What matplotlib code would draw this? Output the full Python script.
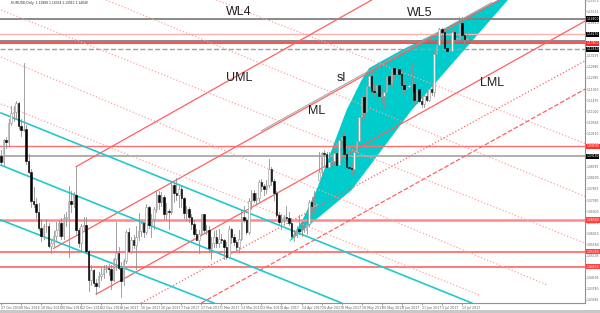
import matplotlib
matplotlib.use("Agg")
import matplotlib.pyplot as plt
from matplotlib.patches import Rectangle, Polygon
from matplotlib.ticker import MultipleLocator, FuncFormatter

# EURUSD daily, 27 Oct 2016 .. 14 Jul 2017 (bar index = position on chart)
opens = [1.0920, 1.0895, 1.0985, 1.0975, 1.1055, 1.1095, 1.1100, 1.1135, 1.1040, 1.1025,
         1.1030, 1.0900, 1.0855, 1.0735, 1.0720, 1.0690, 1.0625, 1.0590, 1.0630, 1.0630,
         1.0550, 1.0560, 1.0590, 1.0615, 1.0645, 1.0590, 1.0665, 1.0665, 1.0735, 1.0720,
         1.0760, 1.0615, 1.0560, 1.0630, 1.0635, 1.0530, 1.0410, 1.0450, 1.0400, 1.0385,
         1.0425, 1.0435, 1.0455, 1.0460, 1.0455, 1.0410, 1.0495, 1.0520, 1.0460, 1.0405,
         1.0490, 1.0605, 1.0530, 1.0575, 1.0555, 1.0585, 1.0610, 1.0645, 1.0605, 1.0710,
         1.0635, 1.0660, 1.0700, 1.0760, 1.0730, 1.0750, 1.0680, 1.0695, 1.0690, 1.0800,
         1.0765, 1.0760, 1.0785, 1.0745, 1.0685, 1.0700, 1.0670, 1.0640, 1.0600, 1.0575,
         1.0600, 1.0680, 1.0615, 1.0615, 1.0540, 1.0560, 1.0585, 1.0560, 1.0580, 1.0575,
         1.0545, 1.0505, 1.0620, 1.0585, 1.0565, 1.0545, 1.0580, 1.0670, 1.0655, 1.0605,
         1.0735, 1.0765, 1.0740, 1.0745, 1.0810, 1.0795, 1.0785, 1.0800, 1.0865, 1.0815,
         1.0765, 1.0675, 1.0650, 1.0665, 1.0670, 1.0665, 1.0645, 1.0590, 1.0595, 1.0620,
         1.0610, 1.0615, 1.0615, 1.0640, 1.0730, 1.0715, 1.0715, 1.0820, 1.0855, 1.0930,
         1.0925, 1.0875, 1.0895, 1.0900, 1.0930, 1.0880, 1.0985, 1.1000, 1.0925, 1.0875,
         1.0870, 1.0865, 1.0935, 1.0980, 1.1080, 1.1160, 1.1100, 1.1205, 1.1245, 1.1185,
         1.1180, 1.1210, 1.1165, 1.1165, 1.1180, 1.1245, 1.1215, 1.1280, 1.1255, 1.1275,
         1.1255, 1.1210, 1.1195, 1.1200, 1.1210, 1.1215, 1.1150, 1.1195, 1.1145, 1.1130,
         1.1165, 1.1150, 1.1195, 1.1180, 1.1335, 1.1375, 1.1440, 1.1425, 1.1360, 1.1350,
         1.1350, 1.1425, 1.1400, 1.1400, 1.1465, 1.1415, 1.1399]
highs = [1.0945, 1.0990, 1.0995, 1.1070, 1.1125, 1.1125, 1.1145, 1.1140, 1.1070, 1.1300,
         1.1045, 1.0925, 1.0865, 1.0790, 1.0745, 1.0725, 1.0660, 1.0640, 1.0660, 1.0645,
         1.0575, 1.0610, 1.0650, 1.0655, 1.0665, 1.0680, 1.0690, 1.0795, 1.0775, 1.0770,
         1.0875, 1.0625, 1.0640, 1.0670, 1.0670, 1.0535, 1.0470, 1.0455, 1.0415, 1.0445,
         1.0460, 1.0470, 1.0470, 1.0475, 1.0470, 1.0500, 1.0650, 1.0545, 1.0485, 1.0495,
         1.0615, 1.0625, 1.0585, 1.0595, 1.0630, 1.0685, 1.0650, 1.0650, 1.0720, 1.0715,
         1.0680, 1.0710, 1.0775, 1.0775, 1.0770, 1.0760, 1.0725, 1.0700, 1.0810, 1.0810,
         1.0830, 1.0795, 1.0795, 1.0750, 1.0715, 1.0710, 1.0680, 1.0655, 1.0620, 1.0615,
         1.0680, 1.0680, 1.0635, 1.0630, 1.0585, 1.0610, 1.0615, 1.0620, 1.0600, 1.0580,
         1.0565, 1.0630, 1.0625, 1.0600, 1.0575, 1.0615, 1.0700, 1.0715, 1.0665, 1.0745,
         1.0780, 1.0780, 1.0765, 1.0820, 1.0825, 1.0805, 1.0820, 1.0905, 1.0875, 1.0825,
         1.0775, 1.0690, 1.0680, 1.0675, 1.0715, 1.0690, 1.0665, 1.0615, 1.0630, 1.0675,
         1.0650, 1.0630, 1.0660, 1.0740, 1.0750, 1.0775, 1.0735, 1.0935, 1.0935, 1.0945,
         1.0935, 1.0935, 1.0910, 1.0950, 1.0935, 1.0990, 1.1000, 1.1020, 1.0935, 1.0900,
         1.0895, 1.0940, 1.0985, 1.1090, 1.1165, 1.1170, 1.1210, 1.1265, 1.1265, 1.1215,
         1.1245, 1.1230, 1.1185, 1.1185, 1.1250, 1.1255, 1.1285, 1.1285, 1.1285, 1.1285,
         1.1270, 1.1225, 1.1235, 1.1225, 1.1295, 1.1225, 1.1200, 1.1200, 1.1165, 1.1170,
         1.1185, 1.1205, 1.1215, 1.1345, 1.1385, 1.1445, 1.1445, 1.1430, 1.1375, 1.1385,
         1.1435, 1.1440, 1.1425, 1.1490, 1.1490, 1.1430, 1.1432]
lows = [1.0880, 1.0880, 1.0950, 1.0960, 1.1045, 1.1060, 1.1075, 1.1030, 1.1000, 1.1020,
        1.0885, 1.0850, 1.0710, 1.0710, 1.0665, 1.0615, 1.0570, 1.0580, 1.0605, 1.0545,
        1.0520, 1.0550, 1.0575, 1.0590, 1.0580, 1.0580, 1.0630, 1.0505, 1.0690, 1.0710,
        1.0600, 1.0545, 1.0530, 1.0615, 1.0520, 1.0365, 1.0390, 1.0385, 1.0352, 1.0380,
        1.0410, 1.0420, 1.0445, 1.0430, 1.0375, 1.0405, 1.0450, 1.0455, 1.0340, 1.0390,
        1.0480, 1.0525, 1.0520, 1.0540, 1.0455, 1.0575, 1.0590, 1.0585, 1.0600, 1.0625,
        1.0585, 1.0620, 1.0690, 1.0700, 1.0715, 1.0660, 1.0660, 1.0620, 1.0680, 1.0730,
        1.0740, 1.0710, 1.0710, 1.0665, 1.0655, 1.0650, 1.0620, 1.0590, 1.0575, 1.0520,
        1.0595, 1.0605, 1.0600, 1.0525, 1.0495, 1.0545, 1.0545, 1.0545, 1.0560, 1.0495,
        1.0495, 1.0500, 1.0560, 1.0555, 1.0535, 1.0525, 1.0575, 1.0650, 1.0600, 1.0600,
        1.0700, 1.0730, 1.0720, 1.0735, 1.0775, 1.0760, 1.0765, 1.0790, 1.0800, 1.0740,
        1.0670, 1.0640, 1.0620, 1.0640, 1.0655, 1.0635, 1.0580, 1.0570, 1.0585, 1.0600,
        1.0590, 1.0605, 1.0600, 1.0630, 1.0690, 1.0685, 1.0680, 1.0820, 1.0845, 1.0880,
        1.0850, 1.0865, 1.0880, 1.0880, 1.0865, 1.0875, 1.0955, 1.0915, 1.0870, 1.0865,
        1.0840, 1.0855, 1.0930, 1.0975, 1.1075, 1.1075, 1.1090, 1.1185, 1.1180, 1.1165,
        1.1170, 1.1160, 1.1140, 1.1110, 1.1165, 1.1200, 1.1205, 1.1235, 1.1245, 1.1235,
        1.1195, 1.1170, 1.1180, 1.1190, 1.1185, 1.1130, 1.1135, 1.1140, 1.1120, 1.1120,
        1.1145, 1.1145, 1.1170, 1.1165, 1.1305, 1.1370, 1.1390, 1.1360, 1.1335, 1.1320,
        1.1350, 1.1385, 1.1385, 1.1395, 1.1415, 1.1375, 1.1392]
closes = [1.0895, 1.0985, 1.0975, 1.1055, 1.1095, 1.1100, 1.1135, 1.1040, 1.1025, 1.1030,
          1.0900, 1.0855, 1.0735, 1.0720, 1.0690, 1.0625, 1.0590, 1.0630, 1.0630, 1.0550,
          1.0560, 1.0590, 1.0615, 1.0645, 1.0590, 1.0665, 1.0665, 1.0735, 1.0720, 1.0760,
          1.0615, 1.0560, 1.0630, 1.0635, 1.0530, 1.0410, 1.0450, 1.0400, 1.0385, 1.0425,
          1.0435, 1.0455, 1.0460, 1.0455, 1.0410, 1.0495, 1.0520, 1.0460, 1.0405, 1.0490,
          1.0605, 1.0530, 1.0575, 1.0555, 1.0585, 1.0610, 1.0645, 1.0605, 1.0710, 1.0635,
          1.0660, 1.0700, 1.0760, 1.0730, 1.0750, 1.0680, 1.0695, 1.0690, 1.0800, 1.0765,
          1.0760, 1.0785, 1.0745, 1.0685, 1.0700, 1.0670, 1.0640, 1.0600, 1.0575, 1.0600,
          1.0680, 1.0615, 1.0615, 1.0540, 1.0560, 1.0585, 1.0560, 1.0580, 1.0575, 1.0545,
          1.0505, 1.0620, 1.0585, 1.0565, 1.0545, 1.0580, 1.0670, 1.0655, 1.0605, 1.0735,
          1.0765, 1.0740, 1.0745, 1.0810, 1.0795, 1.0785, 1.0800, 1.0865, 1.0815, 1.0765,
          1.0675, 1.0650, 1.0665, 1.0670, 1.0665, 1.0645, 1.0590, 1.0595, 1.0620, 1.0610,
          1.0615, 1.0615, 1.0640, 1.0730, 1.0715, 1.0715, 1.0725, 1.0855, 1.0930, 1.0925,
          1.0875, 1.0895, 1.0900, 1.0930, 1.0880, 1.0985, 1.0995, 1.0925, 1.0875, 1.0870,
          1.0865, 1.0935, 1.0980, 1.1080, 1.1160, 1.1100, 1.1205, 1.1245, 1.1185, 1.1180,
          1.1210, 1.1165, 1.1165, 1.1180, 1.1245, 1.1215, 1.1280, 1.1255, 1.1275, 1.1255,
          1.1210, 1.1195, 1.1200, 1.1210, 1.1215, 1.1150, 1.1195, 1.1145, 1.1130, 1.1165,
          1.1150, 1.1195, 1.1180, 1.1335, 1.1375, 1.1440, 1.1425, 1.1360, 1.1350, 1.1350,
          1.1425, 1.1400, 1.1400, 1.1465, 1.1415, 1.1399, 1.1404]

date_labels = ["27 Oct 2016", "8 Nov 2016", "18 Nov 2016", "30 Nov 2016", "12 Dec 2016",
               "22 Dec 2016", "4 Jan 2017", "16 Jan 2017", "26 Jan 2017", "7 Feb 2017",
               "17 Feb 2017", "1 Mar 2017", "13 Mar 2017", "23 Mar 2017", "4 Apr 2017",
               "14 Apr 2017", "26 Apr 2017", "8 May 2017", "18 May 2017", "30 May 2017",
               "9 Jun 2017", "21 Jun 2017", "3 Jul 2017", "13 Jul 2017"]
date_label_bars = [0, 8, 16, 24, 32, 40, 48, 56, 64, 72, 80, 88, 96, 104, 112, 120,
                   128, 136, 144, 152, 160, 168, 176, 184]

# horizontal levels
h_prices = [1.1480, 1.1417, 1.1389, 1.1380, 1.1356, 1.0959, 1.0918, 1.0656, 1.0526, 1.0465]
h_colors = ["#808080", "#ffb0b0", "#808080", "#ff4040", "#a0a0a0",
            "#ff7070", "#a8a8a8", "#ff8888", "#ff7070", "#ff7070"]
h_styles = ["-", "-", "-", "-", "--", "-", "-", "-", "-", "-"]
h_widths = [1.3, 1.0, 1.3, 1.3, 1.0, 1.0, 1.3, 1.8, 1.3, 1.3]
box_colors = ["#000000", "#000000", None, "#ff2020", "#000000",
              "#ff3030", "#000000", "#ff4040", "#ff4040", "#ff4040"]

# pitchfork family (rising), anchor bar/price pairs
fork_start = [(30, 1.0875), (21, 1.0540), (38, 1.0352), (56, 1.0316), (80, 1.0316)]
fork_end = [(148, 1.1558), (199, 1.1558), (234, 1.1476), (234, 1.1313), (234, 1.1197)]
fork_styles = ["-", "-", "-", ":", "--"]

# grey sliding line running just above the median line
slide_start = (104, 1.1022)
slide_end = (196, 1.1548)

# falling channel lines
cyan_start = [(0, 1.1095), (0, 1.0881), (0, 1.0656)]
cyan_end = [(188, 1.0316), (136, 1.0316), (85, 1.0316)]
red_fall_start = [(86, 1.1558), (42, 1.1558), (0, 1.1517), (0, 1.1324), (0, 1.1132)]
red_fall_end = [(234, 1.0967), (234, 1.0750), (234, 1.0558), (218, 1.0390), (191, 1.0349)]

# cyan shaded shape
shade_bars = [115, 120, 126, 132, 138, 144, 147, 160, 176, 191, 206, 164, 140, 115]
shade_prices = [1.0566, 1.0648, 1.0779, 1.0943, 1.1107, 1.1230, 1.1279, 1.1353, 1.1435, 1.1517,
                1.1600, 1.1107, 1.0779, 1.0566]

fig = plt.figure(figsize=(6.0, 3.13), dpi=100)
fig.patch.set_facecolor("white")
ax = fig.add_axes([0.0, 10 / 313, 585 / 600, 303 / 313])
ax.set_xlim(-0.4, 233.2)
ax.set_ylim(1.0316, 1.1558)

ax.add_patch(Polygon(list(zip(shade_bars, shade_prices)), closed=True,
                     facecolor="#00cccc", edgecolor="none", zorder=1))

for p, c, s, w in zip(h_prices, h_colors, h_styles, h_widths):
    ax.axhline(p, color=c, ls=s, lw=w, zorder=2)

for (x0, y0), (x1, y1), s in zip(fork_start, fork_end, fork_styles):
    ax.plot([x0, x1], [y0, y1], color="#ff6060", ls=s, lw=0.9, zorder=2)
ax.plot([slide_start[0], slide_end[0]], [slide_start[1], slide_end[1]],
        color="#a0a0a0", lw=0.7, zorder=2)
for (x0, y0), (x1, y1) in zip(cyan_start, cyan_end):
    ax.plot([x0, x1], [y0, y1], color="#20c8d0", lw=1.2, zorder=2)
for (x0, y0), (x1, y1) in zip(red_fall_start, red_fall_end):
    ax.plot([x0, x1], [y0, y1], color="#ffa0a0", ls=":", lw=0.9, zorder=2)

# candles
for i, (o, h, l, c) in enumerate(zip(opens, highs, lows, closes)):
    ax.plot([i, i], [l, h], color="#909090", lw=0.6, zorder=3)
    face = "white" if c >= o else "black"
    edge = "#909090" if c >= o else "black"
    ax.add_patch(Rectangle((i - 0.3, min(o, c)), 0.6, max(abs(c - o), 0.0002),
                           facecolor=face, edgecolor=edge, lw=0.4, zorder=4))

for txt, x, y in [("WL4", 95, 1.1509), ("WL5", 167, 1.1504), ("UML", 95, 1.1238),
                  ("sl", 136, 1.1238), ("ML", 126, 1.1105), ("LML", 196, 1.1218)]:
    ax.text(x, y, txt, fontsize=9, family="Liberation Sans", ha="center", va="center",
            color="#202020", zorder=6)

ax.text(4, 1.1547, "EURUSD,Daily  1.13988 1.14324 1.13915 1.14040", fontsize=2.4,
        family="Liberation Sans", va="center", color="#303030")

ax.yaxis.tick_right()
ax.yaxis.set_major_locator(MultipleLocator(0.00455))
ax.yaxis.set_major_formatter(FuncFormatter(lambda v, _: f"{v:.5f}"))
ax.tick_params(axis="y", labelsize=2.2, length=1.0, width=0.4, pad=0.5, colors="#606060")
ax.set_xticks(date_label_bars)
ax.set_xticklabels(date_labels, ha="left")
ax.tick_params(axis="x", labelsize=2.3, length=1.5, width=0.4, pad=1, colors="#606060")
for s in ["top", "left"]:
    ax.spines[s].set_visible(False)
for s in ["right", "bottom"]:
    ax.spines[s].set_color("#909090")
    ax.spines[s].set_linewidth(0.8)

for p, bc in zip(h_prices, box_colors):
    if bc is None:
        continue
    ax.text(1.002, p, f"{p:.5f}", transform=ax.get_yaxis_transform(), fontsize=2.2,
            color="white", va="center", ha="left", zorder=7,
            bbox=dict(boxstyle="square,pad=0.2", facecolor=bc, edgecolor="none"))

fig.patches.append(Rectangle((0, 0), 1, 3 / 313, transform=fig.transFigure,
                             facecolor="#c8c8c8", edgecolor="none"))

fig.savefig("out.png", dpi=100)
